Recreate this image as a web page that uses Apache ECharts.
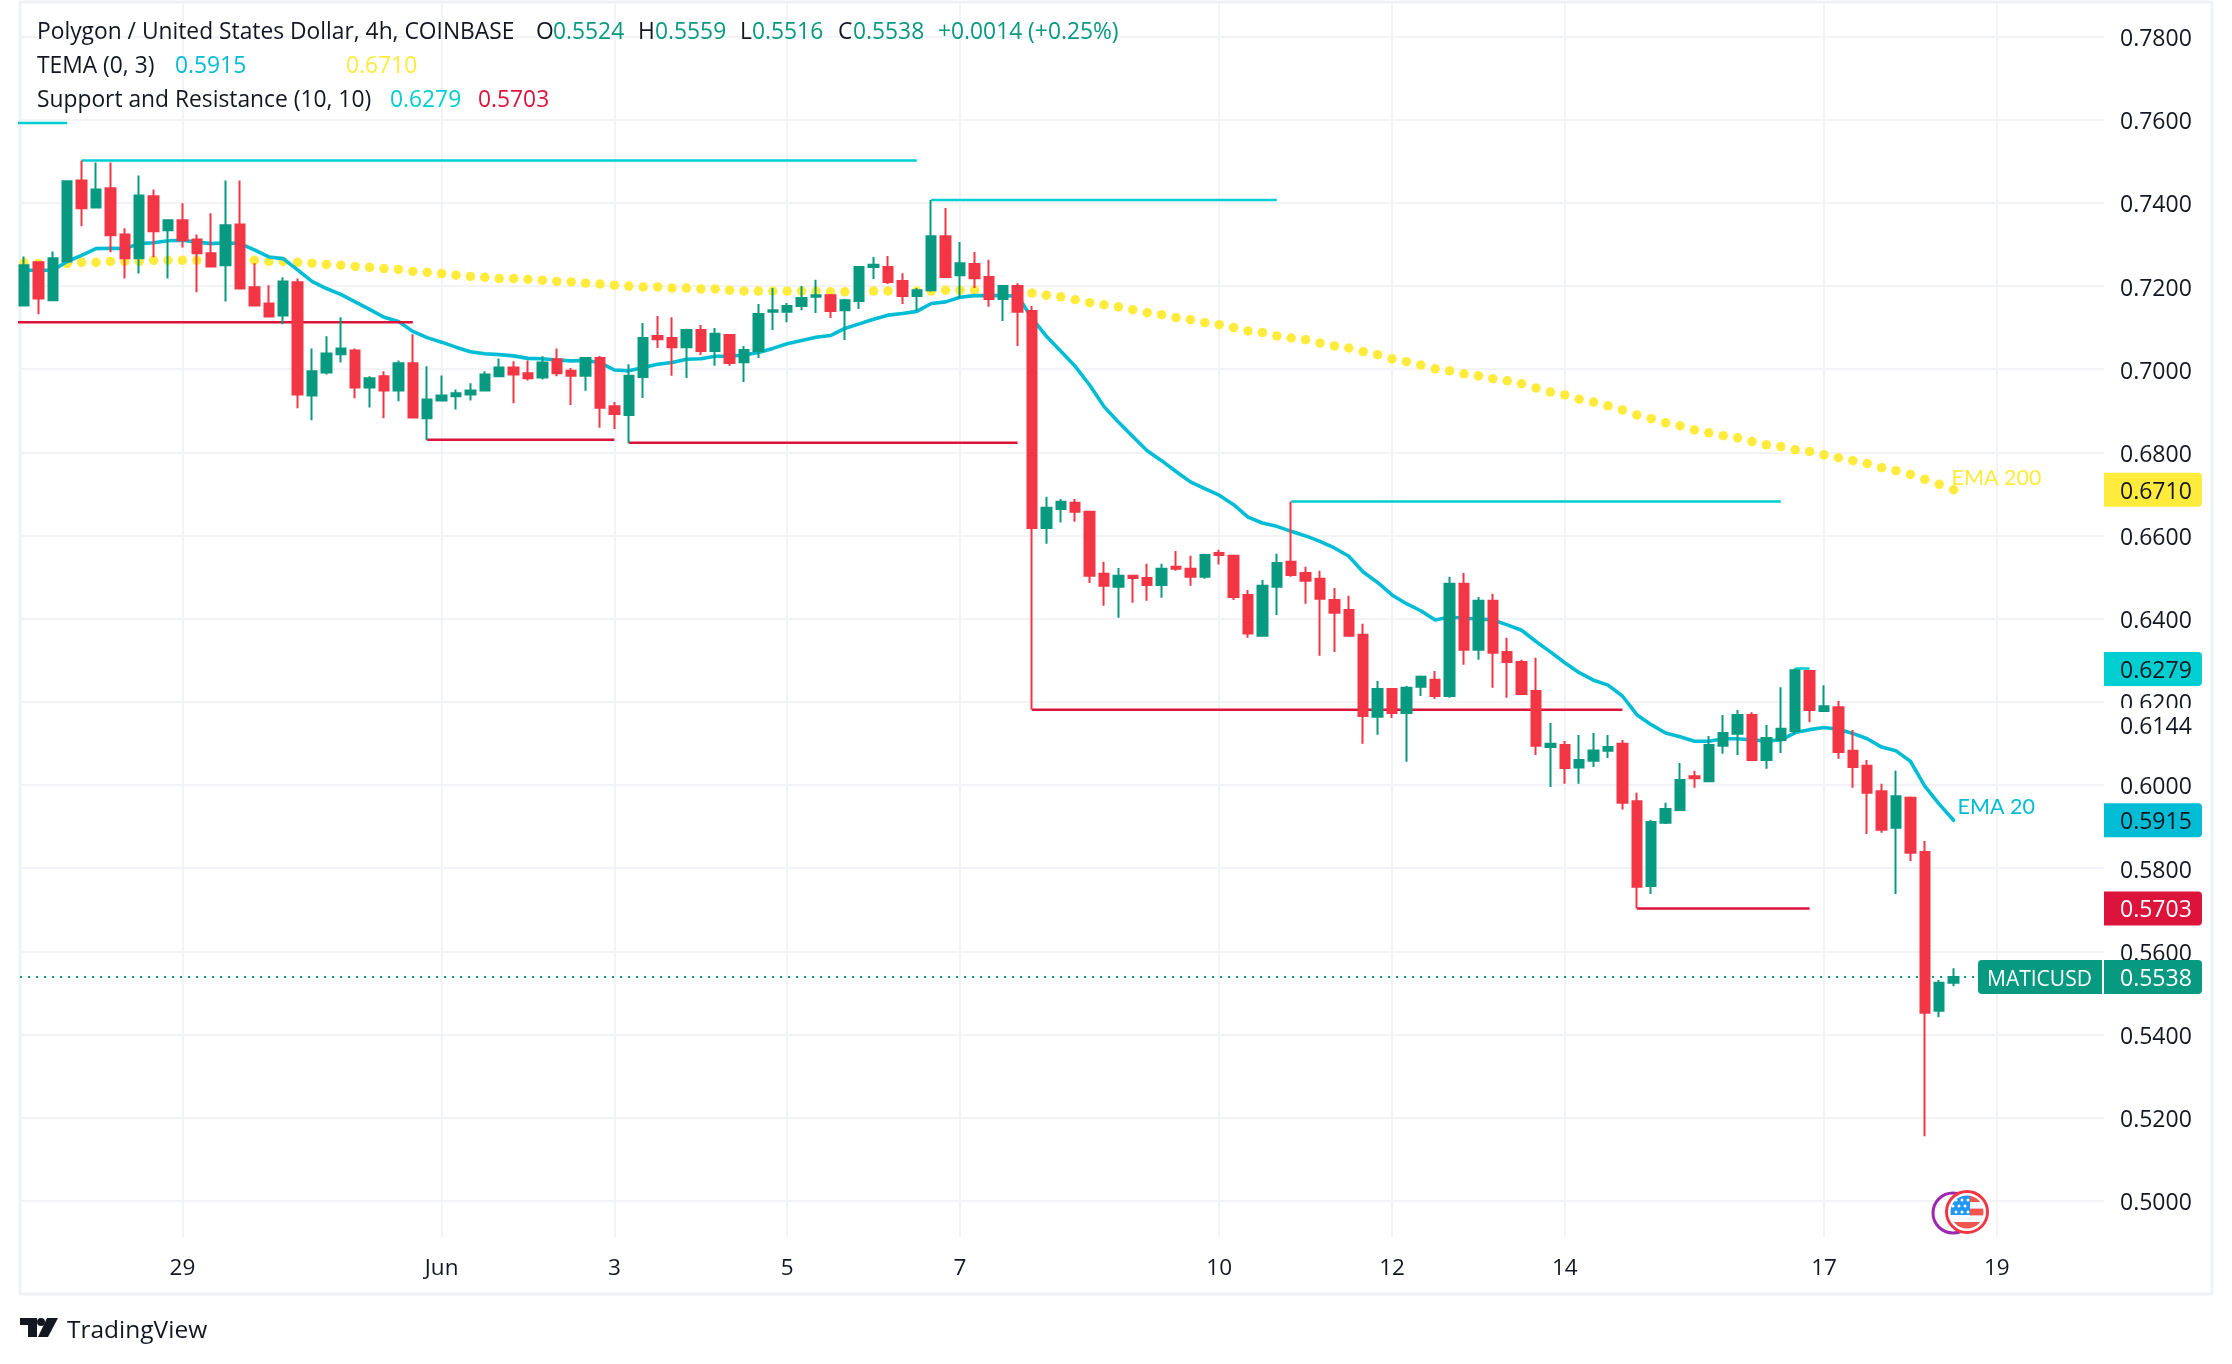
<!DOCTYPE html>
<html>
<head>
<meta charset="utf-8">
<style>html,body{margin:0;padding:0;background:#fff}#main{width:2232px;height:1364px}</style>
<script src="https://cdn.jsdelivr.net/npm/echarts@6/dist/echarts.min.js"></script>
</head>
<body>
<div id="main"></div>
<script>
// 4h bars, index 0 is the first bar on screen
var opens = [
    .7153,.7257,.7166,.7259,.7454,.7389,.7435,.7324,.7267,.7416,
    .7334,.7358,.7312,.7279,.7250,.7348,.7197,.7158,.7129,.7209,
    .6937,.6992,.7036,.7045,.6956,.6983,.6949,.7014,.6882,.6925,
    .6935,.6939,.6949,.6983,.7004,.6990,.6980,.7024,.6996,.6984,
    .7027,.6911,.6890,.6981,.7080,.7075,.7053,.7094,.7044,.7082,
    .7017,.7044,.7138,.7138,.7152,.7174,.7178,.7142,.7164,.7246,
    .7246,.7212,.7176,.7190,.7320,.7226,.7253,.7222,.7169,.7200,
    .7140,.6618,.6664,.6679,.6657,.6508,.6477,.6503,.6498,.6481,
    .6525,.6520,.6501,.6558,.6551,.6457,.6359,.6477,.6537,.6510,
    .6496,.6445,.6421,.6361,.6164,.6231,.6173,.6236,.6253,.6214,
    .6484,.6325,.6443,.6320,.6296,.6226,.6091,.6096,.6042,.6058,
    .6082,.6099,.5961,.5757,.5909,.5940,.6021,.6009,.6094,.6123,
    .6168,.6060,.6108,.6130,.6274,.6178,.6187,.6082,.6046,.5985,
    .5897,.5969,.5839,.5457,.5524
];
var closes = [
    .7250,.7170,.7267,.7452,.7387,.7432,.7322,.7267,.7418,.7332,
    .7358,.7310,.7279,.7247,.7346,.7194,.7153,.7127,.7211,.6939,
    .6995,.7038,.7050,.6956,.6978,.6949,.7014,.6884,.6927,.6937,
    .6942,.6949,.6987,.7004,.6987,.6978,.7016,.6990,.6984,.7027,
    .6907,.6892,.6984,.7075,.7072,.7053,.7094,.7044,.7085,.7015,
    .7046,.7133,.7142,.7152,.7171,.7178,.7140,.7166,.7246,.7251,
    .7210,.7176,.7190,.7320,.7222,.7255,.7219,.7169,.7200,.7138,
    .6618,.6667,.6681,.6657,.6503,.6479,.6503,.6498,.6481,.6520,
    .6520,.6501,.6553,.6553,.6452,.6364,.6479,.6534,.6505,.6491,
    .6448,.6414,.6359,.6166,.6231,.6173,.6234,.6260,.6214,.6484,
    .6325,.6443,.6318,.6296,.6219,.6094,.6099,.6041,.6060,.6083,
    .6091,.5957,.5755,.5911,.5942,.6012,.6016,.6096,.6125,.6168,
    .6060,.6113,.6135,.6276,.6180,.6189,.6079,.6043,.5981,.5892,
    .5973,.5837,.5452,.5524,.5538
];
var lows = [
    .7151,.7132,.7166,.7259,.7344,.7389,.7281,.7218,.7230,.7269,
    .7218,.7293,.7185,.7247,.7163,.7194,.7153,.7127,.7108,.6906,
    .6877,.6987,.7016,.6930,.6908,.6882,.6923,.6882,.6829,.6923,
    .6903,.6925,.6947,.6983,.6918,.6973,.6975,.6983,.6914,.6948,
    .6859,.6856,.6822,.6931,.7051,.6984,.6979,.7034,.7008,.7008,
    .6969,.7027,.7094,.7113,.7142,.7135,.7123,.7070,.7145,.7217,
    .7205,.7157,.7140,.7186,.7222,.7171,.7195,.7150,.7116,.7056,
    .6181,.6580,.6631,.6633,.6486,.6431,.6402,.6438,.6443,.6450,
    .6515,.6479,.6496,.6530,.6445,.6354,.6359,.6409,.6501,.6436,
    .6311,.6320,.6359,.6099,.6121,.6161,.6056,.6214,.6207,.6210,
    .6289,.6301,.6234,.6210,.6217,.6072,.5995,.6003,.6003,.6043,
    .6065,.5941,.5703,.5738,.5906,.5940,.5993,.6007,.6075,.6072,
    .6060,.6039,.6077,.6123,.6151,.6178,.6063,.5993,.5882,.5885,
    .5738,.5817,.5155,.5441,.5516
];
var highs = [
    .7271,.7257,.7283,.7454,.7502,.7497,.7497,.7339,.7466,.7432,
    .7360,.7399,.7324,.7375,.7454,.7454,.7255,.7202,.7221,.7218,
    .7050,.7079,.7125,.7050,.6983,.6995,.7021,.7084,.7007,.6985,
    .6951,.6966,.6995,.7026,.7019,.7021,.7031,.7050,.7003,.7027,
    .7032,.6921,.7012,.7111,.7128,.7125,.7097,.7106,.7099,.7082,
    .7056,.7157,.7195,.7159,.7200,.7215,.7181,.7169,.7246,.7270,
    .7272,.7231,.7195,.7407,.7388,.7306,.7282,.7263,.7202,.7207,
    .7152,.6693,.6688,.6688,.6657,.6537,.6522,.6505,.6532,.6532,
    .6563,.6551,.6556,.6566,.6551,.6469,.6493,.6556,.6682,.6525,
    .6515,.6474,.6455,.6388,.6250,.6231,.6238,.6263,.6274,.6501,
    .6510,.6452,.6460,.6354,.6301,.6306,.6149,.6106,.6120,.6125,
    .6120,.6108,.5981,.5916,.5957,.6053,.6034,.6118,.6168,.6180,
    .6175,.6144,.6235,.6280,.6276,.6240,.6202,.6132,.6060,.6003,
    .6034,.5972,.5865,.5531,.5559
];
var ema20 = [
    .7238,.7238,.7238,.7259,.7274,.7290,.7291,.7290,.7302,.7304,
    .7309,.7310,.7306,.7302,.7304,.7302,.7287,.7270,.7266,.7239,
    .7211,.7194,.7180,.7162,.7144,.7125,.7115,.7091,.7076,.7065,
    .7053,.7042,.7037,.7035,.7032,.7026,.7025,.7022,.7020,.7021,
    .7016,.6998,.6996,.7004,.7012,.7016,.7024,.7025,.7031,.7031,
    .7034,.7040,.7050,.7061,.7069,.7077,.7081,.7098,.7109,.7120,
    .7130,.7134,.7139,.7158,.7162,.7173,.7177,.7177,.7177,.7176,
    .7123,.7079,.7043,.7007,.6962,.6910,.6873,.6838,.6804,.6780,
    .6754,.6729,.6713,.6697,.6674,.6644,.6630,.6622,.6610,.6599,
    .6586,.6570,.6550,.6512,.6487,.6457,.6436,.6419,.6397,.6404,
    .6401,.6399,.6397,.6385,.6372,.6345,.6320,.6294,.6270,.6252,
    .6240,.6214,.6169,.6145,.6125,.6116,.6105,.6105,.6111,.6111,
    .6108,.6106,.6108,.6126,.6133,.6138,.6134,.6124,.6111,.6091,
    .6082,.6057,.5997,.5954,.5915
];
var ema200 = [
    .7256,.7254,.7254,.7254,.7257,.7257,.7259,.7259,.7259,.7262,
    .7262,.7262,.7262,.7262,.7262,.7262,.7262,.7259,.7259,.7257,
    .7255,.7252,.7250,.7247,.7245,.7242,.7240,.7235,.7233,.7230,
    .7226,.7223,.7221,.7218,.7218,.7216,.7214,.7211,.7210,.7207,
    .7205,.7202,.7200,.7198,.7198,.7195,.7195,.7193,.7193,.7190,
    .7188,.7188,.7188,.7188,.7188,.7188,.7186,.7186,.7188,.7188,
    .7188,.7188,.7188,.7188,.7190,.7190,.7190,.7188,.7186,.7185,
    .7183,.7178,.7174,.7167,.7160,.7155,.7150,.7143,.7136,.7131,
    .7124,.7119,.7112,.7107,.7100,.7092,.7088,.7080,.7075,.7071,
    .7063,.7056,.7051,.7042,.7035,.7025,.7018,.7010,.7001,.6996,
    .6989,.6984,.6977,.6972,.6965,.6955,.6945,.6938,.6928,.6921,
    .6912,.6902,.6890,.6881,.6871,.6864,.6854,.6847,.6840,.6835,
    .6826,.6818,.6814,.6806,.6802,.6794,.6787,.6780,.6773,.6763,
    .6756,.6747,.6735,.6723,.6710
];

// support and resistance steps: level, first bar, last bar
var resistLevel = [.7592,.7502,.7407,.6682,.6280];
var resistFrom = [-2,4,63,88,123];
var resistTo = [3,62,87,122,124];
var supportLevel = [.7113,.6830,.6823,.6181,.5703];
var supportFrom = [-2,28,42,70,112];
var supportTo = [27,41,69,111,124];

var dayTickBars = [11,29,41,53,65,83,95,107,125,137];
var dayTickLabels = ['29','Jun','3','5','7','10','12','14','17','19'];
var priceTicks = [.50,.52,.54,.56,.58,.60,.62,.64,.66,.68,.70,.72,.74,.76,.78];

var lastPrice = .5538;
var tagValues = [.6144,.6710,.6279,.5915,.5703,.5538];
var tagColors = ['#ffffff','#FFEB3B','#00CED1','#00BCD4','#DC143C','#089981'];
var tagTextColors = ['#131722','#131722','#131722','#131722','#ffffff','#ffffff'];

var UP = '#089981', DOWN = '#F23645', INK = '#131722', GRID = '#F2F3F6';
var FONT = '"Open Sans", sans-serif';
var X_MIN = -0.278, X_MAX = 144.444;

var candles = [];
var ema20Data = [];
var ema200Data = [];
for (var i = 0; i < opens.length; i++) {
    candles.push([i, opens[i], closes[i], lows[i], highs[i]]);
    ema20Data.push([i, ema20[i]]);
    ema200Data.push([i, ema200[i]]);
}
var tagData = [];
for (var t = 0; t < tagValues.length; t++) {
    tagData.push([0, tagValues[t]]);
}

function stepSeries(levels, from, to, color) {
    return levels.map(function (lv, k) {
        return {
            type: 'line', data: [[from[k], lv], [to[k], lv]], symbol: 'none', silent: true, z: 2,
            lineStyle: {color: color, width: 2.5}
        };
    });
}

function renderTag(params, api) {
    var idx = params.dataIndex;
    var y = api.coord([0, api.value(1)])[1];
    var isLast = tagValues[idx] === lastPrice;
    var kids = [
        {type: 'rect', shape: {x: 2104, y: y - 17, width: 98, height: 34, r: idx === 0 ? 0 : [0, 4, 4, 0]},
            style: {fill: tagColors[idx]}},
        {type: 'text', style: {text: tagValues[idx].toFixed(4), x: 2120, y: y + 2.5, verticalAlign: 'middle',
            fill: tagTextColors[idx], font: (idx > 3 ? '500 ' : '') + '23px ' + FONT}}
    ];
    if (isLast) {
        kids.push({type: 'rect', shape: {x: 1978, y: y - 17, width: 124, height: 34, r: [4, 0, 0, 4]},
            style: {fill: UP}});
        kids.push({type: 'text', style: {text: 'MATICUSD', x: 1987, y: y + 2.5, verticalAlign: 'middle',
            fill: '#fff', font: '500 21px ' + FONT}});
    }
    return {type: 'group', children: kids};
}

function legendText(text, x, y, color) {
    return {type: 'text', x: x, y: y, z: 20, style: {text: text, fill: color, font: '22.8px ' + FONT, verticalAlign: 'middle'}};
}

var flagSvg = '<svg xmlns="http://www.w3.org/2000/svg" width="46" height="46" viewBox="0 0 46 46">' +
    '<defs><clipPath id="c"><circle cx="23" cy="23" r="16.5"/></clipPath></defs>' +
    '<circle cx="23" cy="23" r="20.5" fill="#fff" stroke="#F23645" stroke-width="3"/>' +
    '<g clip-path="url(#c)"><rect width="46" height="46" fill="#F8F9FD"/>' +
    '<rect x="26" y="6" width="16" height="7" fill="#F05650"/>' +
    '<rect x="26" y="19.6" width="16" height="6.8" fill="#F05650"/>' +
    '<rect x="4" y="33" width="38" height="7" fill="#F05650"/>' +
    '<rect x="4" y="4" width="22" height="22" fill="#2196F3"/>' +
    '<g fill="#fff"><circle cx="12" cy="11" r="1.5"/><circle cx="18" cy="11" r="1.5"/><circle cx="24" cy="11" r="1.5"/>' +
    '<circle cx="9" cy="17" r="1.5"/><circle cx="15" cy="17" r="1.5"/><circle cx="21" cy="17" r="1.5"/>' +
    '<circle cx="12" cy="23" r="1.5"/><circle cx="18" cy="23" r="1.5"/><circle cx="24" cy="23" r="1.5"/></g></g></svg>';

var myChart = echarts.init(document.getElementById('main'), null, {renderer: 'canvas'});
var option = {
    animation: false,
    backgroundColor: '#fff',
    grid: {left: 20, top: 2, width: 2084, height: 1235},
    xAxis: {
        type: 'value', min: X_MIN, max: X_MAX,
        axisLine: {show: false},
        axisTick: {show: false, customValues: dayTickBars},
        splitLine: {show: true, lineStyle: {color: GRID, width: 2}},
        axisLabel: {
            customValues: dayTickBars, margin: 20, color: INK, fontSize: 22.5, fontFamily: FONT,
            formatter: function (v) {
                var s = dayTickLabels[dayTickBars.indexOf(v)];
                return s === 'Jun' ? '{b|Jun}' : s;
            },
            rich: {b: {fontSize: 22.5, fontFamily: FONT, fontWeight: 500, color: INK}}
        }
    },
    yAxis: {
        type: 'value', position: 'right', min: .49127, max: .78832,
        axisLine: {show: false},
        axisTick: {show: false, customValues: priceTicks},
        splitLine: {show: true, lineStyle: {color: GRID, width: 2}},
        axisLabel: {
            customValues: priceTicks, margin: 16, color: INK, fontSize: 23, fontFamily: FONT,
            formatter: function (v) { return '{p|' + v.toFixed(4) + '}'; },
            rich: {p: {fontSize: 23, fontFamily: FONT, color: INK, padding: [6, 0, 0, 0]}}
        }
    },
    series: [
        {
            type: 'line', name: 'EMA 200', data: ema200Data, z: 1, silent: true,
            symbol: 'circle', symbolSize: 9.5, showSymbol: true, showAllSymbol: true,
            itemStyle: {color: '#FFEB3B'}, lineStyle: {opacity: 0, width: 0},
            endLabel: {show: true, formatter: 'EMA 200', color: '#FFEB3B', fontSize: 21.5, fontFamily: 'Lato', offset: [-10, -12]}
        },
        {
            type: 'line', name: 'EMA 20', data: ema20Data, z: 2, silent: true,
            symbol: 'none',
            lineStyle: {color: '#00BCD4', width: 3.6, cap: 'round', join: 'round'},
            endLabel: {show: true, formatter: 'EMA 20', color: '#00BCD4', fontSize: 21.5, fontFamily: 'Lato', offset: [-4, -13]}
        },
        {
            type: 'line', name: 'last price', data: [[X_MIN, lastPrice], [X_MAX, lastPrice]], z: 2, silent: true,
            symbol: 'none', lineStyle: {color: UP, type: [2, 6], width: 2}
        }
    ].concat(stepSeries(resistLevel, resistFrom, resistTo, '#00CED1'))
     .concat(stepSeries(supportLevel, supportFrom, supportTo, '#DC143C'))
     .concat([
        {
            type: 'candlestick', name: 'MATICUSD', data: candles, z: 3, barWidth: 10,
            itemStyle: {color: UP, color0: DOWN, borderColor: UP, borderColor0: DOWN, borderWidth: 2}
        },
        {type: 'custom', data: tagData, renderItem: renderTag, z: 6, silent: true, clip: false}
    ]),
    graphic: [
        {type: 'rect', z: -1, shape: {x: 20, y: 2, width: 2192, height: 1292}, style: {fill: 'none', stroke: '#F0F1F6', lineWidth: 3}},
        legendText('Polygon / United States Dollar, 4h, COINBASE', 37, 33, INK),
        legendText('O', 536, 33, INK), legendText('0.5524', 553, 33, UP),
        legendText('H', 638, 33, INK), legendText('0.5559', 655, 33, UP),
        legendText('L', 740, 33, INK), legendText('0.5516', 752, 33, UP),
        legendText('C', 838, 33, INK), legendText('0.5538', 853, 33, UP),
        legendText('+0.0014 (+0.25%)', 938, 33, UP),
        legendText('TEMA (0, 3)', 37, 67, INK),
        legendText('0.5915', 175, 67, '#00BCD4'),
        legendText('0.6710', 346, 67, '#FFEB3B'),
        legendText('Support and Resistance (10, 10)', 37, 101, INK),
        legendText('0.6279', 390, 101, '#00CED1'),
        legendText('0.5703', 478, 101, '#DC143C'),
        {type: 'polygon', shape: {points: [[20,1318],[37,1318],[37,1337],[28,1337],[28,1325],[20,1325]]}, style: {fill: INK}},
        {type: 'circle', shape: {cx: 41, cy: 1322, r: 4}, style: {fill: INK}},
        {type: 'polygon', shape: {points: [[47,1318],[58,1318],[48,1337],[38,1337]]}, style: {fill: INK}},
        {type: 'text', x: 67, y: 1331, style: {text: 'TradingView', fill: INK, font: '24.5px ' + FONT, verticalAlign: 'middle'}},
        {type: 'circle', z: 20, shape: {cx: 1953, cy: 1213, r: 20}, style: {fill: '#fff', stroke: '#9C27B0', lineWidth: 3}},
        {type: 'image', z: 21, x: 1944, y: 1189, style: {image: 'data:image/svg+xml;charset=utf-8,' + encodeURIComponent(flagSvg), width: 46, height: 46}}
    ]
};
myChart.setOption(option);
</script>
</body>
</html>
